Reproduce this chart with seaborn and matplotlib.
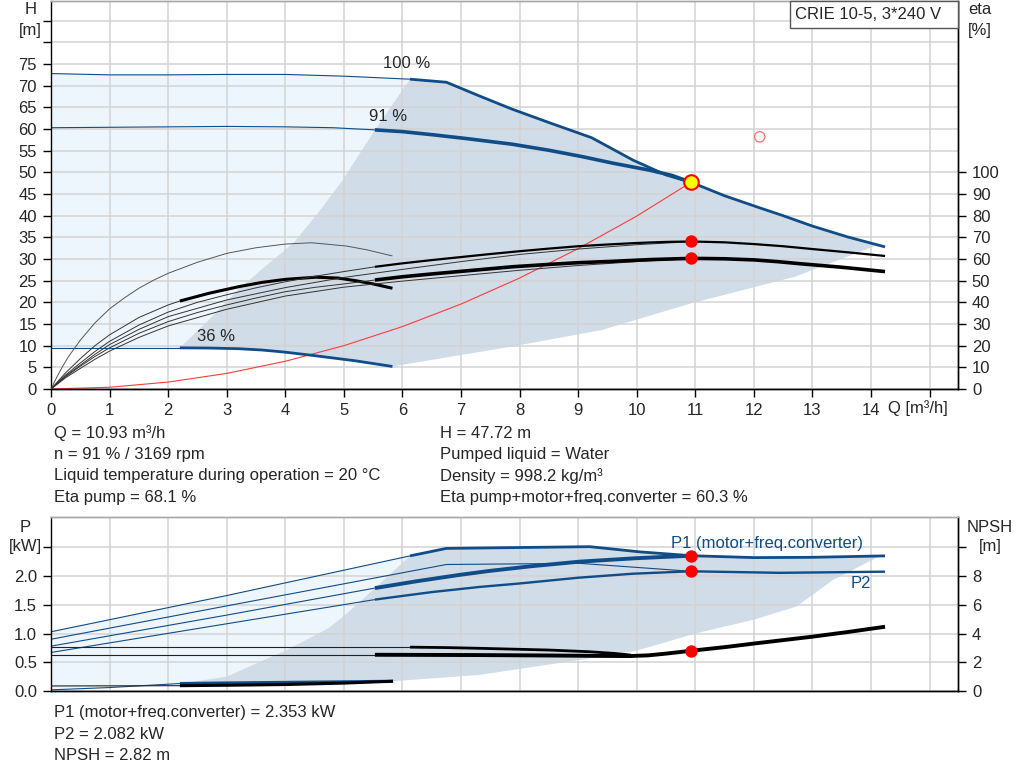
import matplotlib
matplotlib.use("Agg")
import matplotlib.pyplot as plt
import matplotlib.patches as mpatches
import seaborn as sns

sns.set_style("white")
plt.rcParams['font.family'] = ['Liberation Sans', 'DejaVu Sans']
plt.rcParams['font.size'] = 12

# ---------------- data ----------------
# H curves [m] vs Q [m3/h]
q100_thin = [0, 1, 2, 3, 4, 5, 6.13]
h100_thin = [72.8, 72.5, 72.5, 72.6, 72.6, 72.2, 71.5]
q100_thick = [6.13, 6.75, 7.32, 7.87, 8.5, 9.23, 9.94, 10.5, 10.93, 11.5, 12.08, 12.5, 13.0, 13.6, 14.24]
h100_thick = [71.5, 70.8, 67.6, 64.6, 61.5, 58.0, 52.8, 49.4, 47.7, 44.6, 41.9, 40.0, 37.6, 35.1, 32.8]
q91_thin = [0, 1, 2, 3, 4, 4.82, 5.53]
h91_thin = [60.3, 60.4, 60.5, 60.6, 60.5, 60.3, 59.8]
q91_thick = [5.53, 6.0, 6.5, 7.09, 7.87, 8.5, 9.08, 9.6, 10.22, 10.6, 10.93]
h91_thick = [59.8, 59.4, 58.7, 57.8, 56.5, 55.1, 53.6, 52.1, 50.5, 49.3, 47.7]
q36_thin = [0, 1, 2.2]
h36_thin = [9.5, 9.5, 9.5]
q36_thick = [2.2, 2.7, 3.2, 3.6, 4.0, 4.5, 5.2, 5.83]
h36_thick = [9.5, 9.45, 9.3, 9.0, 8.5, 7.7, 6.5, 5.2]
# operating range boundaries (H chart)
q_left = [2.2, 2.7, 3.2, 3.7, 4.14, 4.55, 4.98, 5.53, 6.13]
h_left = [9.5, 16.0, 23.0, 28.8, 33.7, 40.5, 48.2, 59.8, 71.5]
q_low = [5.83, 7.87, 9.4, 10.94, 12.7, 14.07, 14.24]
h_low = [5.2, 9.8, 13.6, 19.8, 25.9, 33.0, 32.8]
# system curve
q_sys = [0, 1, 2, 3, 4, 5, 6, 7, 8, 9, 10, 10.93]
h_sys = [0, 0.4, 1.6, 3.6, 6.4, 10.0, 14.4, 19.6, 25.6, 32.4, 39.9, 47.72]

# efficiency curves [%]
q_ep36 = [0, 0.1, 0.2, 0.3, 0.5, 0.75, 1.0, 1.25, 1.5, 1.75, 2.0, 2.5, 3.0, 3.5, 4.0, 4.45, 5.04, 5.4, 5.83]
e_ep36 = [0, 5.5, 10.5, 15, 22.5, 30.5, 37, 42, 46.5, 50.2, 53.4, 58.5, 62.6, 65.2, 66.9, 67.5, 66.0, 64.2, 61.4]
q_et36_thin = [0, 0.25, 0.5, 0.75, 1, 1.5, 2, 2.2]
e_et36_thin = [0, 7.5, 14, 20, 25, 33, 38.8, 40.6]
q_et36_thick = [2.2, 2.7, 3.2, 3.6, 4.0, 4.52, 4.9, 5.2, 5.5, 5.83]
e_et36_thick = [40.6, 44.2, 47.2, 49.2, 50.6, 51.6, 51.2, 50.0, 48.5, 46.5]
q_ep91_thin = [0, 0.25, 0.5, 0.75, 1, 1.5, 2, 2.5, 3, 3.5, 4, 4.5, 5, 5.53]
e_ep91_thin = [0, 6.5, 12, 17.3, 22, 29.5, 35.5, 40, 43.5, 46.7, 49.5, 52, 54.2, 56.4]
q_ep_thick = [5.53, 6, 6.5, 7, 7.5, 8, 8.5, 9, 9.5, 10, 10.5, 10.93, 11.5, 12, 12.5, 13, 13.6, 14.24]
e_ep_thick = [56.4, 58.0, 59.5, 60.9, 62.3, 63.6, 64.8, 65.9, 66.7, 67.4, 67.9, 68.1, 67.7, 66.9, 65.9, 64.6, 63.1, 61.4]
q_ep100 = [0, 0.25, 0.5, 0.75, 1, 1.5, 2, 3, 4, 5, 6, 7, 8, 9, 10, 10.93]
e_ep100 = [0, 6, 11, 16, 20.5, 27.5, 33.4, 41.1, 46.8, 51.5, 55.2, 58.8, 62.1, 64.6, 66.6, 68.0]
q_et91_thin = [0, 0.25, 0.5, 0.75, 1, 1.5, 2, 2.5, 3, 3.5, 4, 4.5, 5, 5.53]
e_et91_thin = [0, 5.7, 10.5, 15, 19, 25.7, 31.1, 35.3, 38.8, 42, 44.9, 46.9, 48.5, 50.3]
q_et_thick = [5.53, 6, 6.5, 7, 7.5, 7.87, 8.5, 9, 9.57, 10.2, 10.93, 11.5, 12, 12.4, 12.8, 13.5, 14.24]
e_et_thick = [50.3, 51.8, 53.1, 54.3, 55.5, 56.4, 57.5, 58.3, 58.9, 59.7, 60.3, 60.1, 59.6, 58.8, 57.8, 56.2, 54.2]
q_et100 = [0, 0.25, 0.5, 0.75, 1, 1.5, 2, 3, 4, 5, 6, 7, 8, 9, 10, 10.93]
e_et100 = [0, 5.2, 9.5, 13.7, 17.5, 23.8, 29.1, 36.8, 42.9, 47.0, 49.8, 52.3, 54.8, 57.0, 58.8, 60.2]

# power curves [kW]
q_p1_100_thin = [0, 3, 6.13]
p_p1_100_thin = [1.03, 1.66, 2.35]
q_p1_max = [6.13, 6.75, 9.2, 10.05, 10.93, 12.0, 13.0, 14.24]
p_p1_max = [2.35, 2.48, 2.51, 2.42, 2.353, 2.32, 2.325, 2.35]
q_p1_91_thin = [0, 3, 5.53]
p_p1_91_thin = [0.78, 1.32, 1.79]
q_p1_91_thick = [5.53, 6.25, 6.98, 7.5, 8.2, 9.03, 10.0, 10.93]
p_p1_91_thick = [1.79, 1.91, 2.02, 2.09, 2.17, 2.25, 2.31, 2.353]
q_p2_100 = [0, 3, 6.75, 9.03, 10.93]
p_p2_100 = [0.90, 1.48, 2.20, 2.22, 2.082]
q_p2_91_thin = [0, 5.53]
p_p2_91_thin = [0.67, 1.59]
q_p2_thick = [5.53, 6.5, 7.32, 8.0, 9.0, 9.94, 10.93, 12.44, 14.24]
p_p2_thick = [1.59, 1.72, 1.81, 1.87, 1.97, 2.04, 2.082, 2.055, 2.075]
q_p1_36_thin = [0, 1, 2.2]
p_p1_36_thin = [0.02, 0.06, 0.13]
q_p1_36_thick = [2.2, 3, 4, 5, 5.84]
p_p1_36_thick = [0.13, 0.14, 0.15, 0.16, 0.17]
# operating range boundaries (P chart)
q_pleft = [2.2, 3.0, 3.57, 4.0, 4.36, 4.75, 5.05, 5.5, 6.13]
p_pleft = [0.13, 0.25, 0.51, 0.70, 0.89, 1.10, 1.35, 1.76, 2.35]
q_plow = [5.84, 7.32, 9.03, 10.0, 11.0, 12.0, 12.73, 13.35, 14.1, 14.24]
p_plow = [0.17, 0.28, 0.54, 0.70, 1.0, 1.24, 1.47, 1.93, 2.32, 2.35]

# NPSH curves [m]
q_n100_thin = [0, 6.13]
n_n100_thin = [3.05, 3.05]
q_n100_thick = [6.13, 6.75, 7.32, 8.5, 9.2, 9.6, 9.9]
n_n100_thick = [3.05, 3.02, 2.97, 2.85, 2.73, 2.62, 2.5]
q_n91_thin = [0, 5.53]
n_n91_thin = [2.52, 2.52]
q_n_thick = [5.53, 7.32, 8.5, 9.4, 9.88, 10.2, 10.5, 10.93, 11.5, 12.0, 12.5, 13.0, 13.6, 14.24]
n_n_thick = [2.52, 2.5, 2.47, 2.44, 2.43, 2.48, 2.6, 2.8, 3.05, 3.3, 3.54, 3.78, 4.1, 4.47]
q_n36_thin = [0, 2.2]
n_n36_thin = [0.35, 0.37]
q_n36_thick = [2.2, 3, 4, 5, 5.84]
n_n36_thick = [0.37, 0.40, 0.45, 0.55, 0.68]

# duty point
q_duty = 10.93
h_duty = 47.72
eta_pump = 68.1
eta_total = 60.3
p1_duty = 2.353
p2_duty = 2.082
npsh_duty = 2.8

x_ticks = list(range(0, 16))
x_labels = [str(i) for i in range(0, 15)] + ['']
h_ticks = list(range(0, 90, 5))
h_labels = [str(v) for v in range(0, 80, 5)] + ['', '']
eta_ticks = list(range(0, 110, 10))
p_ticks = [0.0, 0.5, 1.0, 1.5, 2.0, 2.5]
p_labels = ['0.0', '0.5', '1.0', '1.5', '2.0', '']
n_ticks = [0, 2, 4, 6, 8, 10]
n_labels = ['0', '2', '4', '6', '8', '']

info_left = ['Q = 10.93 m³/h', 'n = 91 % / 3169 rpm',
             'Liquid temperature during operation = 20 °C', 'Eta pump = 68.1 %']
info_right = ['H = 47.72 m', 'Pumped liquid = Water', 'Density = 998.2 kg/m³',
              'Eta pump+motor+freq.converter = 60.3 %']
info_bottom = ['P1 (motor+freq.converter) = 2.353 kW', 'P2 = 2.082 kW', 'NPSH = 2.82 m']

# ---------------- style ----------------
BLUE = '#0f4c88'
GREY_FILL = '#d0dce8'
LIGHT_FILL = '#eef6fd'
GRID = '#d3d3d3'
FS = 12

W, HH = 1024, 781
fig = plt.figure(figsize=(W / 100, HH / 100), dpi=100)


def box(x0, y0, x1, y1):
    return [x0 / W, 1 - y1 / HH, (x1 - x0) / W, (y1 - y0) / HH]


def line(axis, q, v, color, lw, z=2):
    sns.lineplot(x=q, y=v, ax=axis, color=color, linewidth=lw, estimator=None,
                 sort=False, legend=False, zorder=z, solid_capstyle='butt')


def style_axes(a, right=False):
    for s in ['left', 'right', 'bottom']:
        a.spines[s].set_color('black')
        a.spines[s].set_linewidth(1.0)
    a.spines['top'].set_color('#a8a8a8')
    a.spines['top'].set_linewidth(1.0)
    a.spines['right'].set_visible(right)
    a.spines['left'].set_visible(not right)


XMAX = (958 - 51) / 58.57

# ---------------- top chart ----------------
ax = fig.add_axes(box(51, 1, 958, 389))
ax.set_xlim(0, XMAX)
HMAX = 388 / 4.333
ax.set_ylim(0, HMAX)
ax.set_axisbelow('line')
ax.set_xticks(x_ticks)
ax.set_xticklabels(x_labels)
ax.set_yticks(h_ticks)
ax.set_yticklabels(h_labels)
ax.grid(True, color=GRID, linewidth=1.1)
ax.tick_params(direction='out', length=6, width=1, color='black', labelsize=FS, pad=4,
               left=True, bottom=True)
ax.yaxis.get_major_ticks()[-1].tick1line.set_visible(False)
style_axes(ax)
ax.spines['right'].set_visible(True)

# fills
light_q = q100_thin + q_left[::-1] + q36_thin[::-1]
light_h = h100_thin + h_left[::-1] + h36_thin[::-1]
ax.fill(light_q, light_h, color=LIGHT_FILL, lw=0, zorder=1)
grey_q = q_left + q100_thick + q_low[::-1] + q36_thick[::-1]
grey_h = h_left + h100_thick + h_low[::-1] + h36_thick[::-1]
ax.fill(grey_q, grey_h, color=GREY_FILL, lw=0, zorder=1)

line(ax, q_sys, h_sys, '#ff3b3b', 0.8)
line(ax, q100_thin, h100_thin, BLUE, 0.8)
line(ax, q100_thick, h100_thick, BLUE, 2.0)
line(ax, q91_thin, h91_thin, BLUE, 0.8)
line(ax, q91_thick, h91_thick, BLUE, 2.6)
line(ax, q36_thin, h36_thin, BLUE, 0.8)
line(ax, q36_thick, h36_thick, BLUE, 2.0)

ax.text(6.07, 75.2, '100 %', ha='center', va='center', fontsize=FS)
ax.text(5.76, 62.8, '91 %', ha='center', va='center', fontsize=FS)
ax.text(2.82, 12.2, '36 %', ha='center', va='center', fontsize=FS)

axe = ax.twinx()
axe.set_ylim(0, 2 * HMAX)
axe.set_yticks(eta_ticks)
axe.set_yticklabels([str(v) for v in eta_ticks])
axe.tick_params(direction='out', length=6, width=1, color='black', labelsize=FS, pad=4)
axe.grid(False)
style_axes(axe, right=True)

line(axe, q_ep36, e_ep36, '#555555', 0.7)
line(axe, q_et36_thin, e_et36_thin, '#333333', 0.7)
line(axe, q_et36_thick, e_et36_thick, 'black', 2.2)
line(axe, q_ep100, e_ep100, '#333333', 0.7)
line(axe, q_ep91_thin, e_ep91_thin, '#333333', 0.7)
line(axe, q_ep_thick, e_ep_thick, 'black', 1.6)
line(axe, q_et100, e_et100, '#333333', 0.7)
line(axe, q_et91_thin, e_et91_thin, '#333333', 0.7)
line(axe, q_et_thick, e_et_thick, 'black', 2.6)

sns.scatterplot(x=[q_duty, q_duty], y=[eta_pump, eta_total], ax=axe, s=80,
                color='#ff0000', edgecolor='#ff0000', linewidth=0, zorder=5, legend=False)
sns.scatterplot(x=[q_duty], y=[h_duty * 2], ax=axe, s=110, color='#ffff00',
                edgecolor='#ff0000', linewidth=1.5, zorder=6, legend=False)
sns.scatterplot(x=[12.1], y=[58.2 * 2], ax=axe, s=55, facecolor='none',
                edgecolor='#ff6b6b', linewidth=0.9, zorder=6, legend=False)

# title box
rect = mpatches.Rectangle((790 / W, 1 - 28 / HH), 168 / W, 27 / HH,
                          transform=fig.transFigure, facecolor='white',
                          edgecolor='#555555', linewidth=1.0, zorder=5)
fig.add_artist(rect)
fig.text(868 / W, 1 - 14.5 / HH, 'CRIE 10-5, 3*240 V', ha='center', va='center',
         fontsize=FS, zorder=6)

fig.text(31 / W, 1 - 10 / HH, 'H', ha='center', va='center', fontsize=FS)
fig.text(30 / W, 1 - 30 / HH, '[m]', ha='center', va='center', fontsize=FS)
fig.text(980 / W, 1 - 10 / HH, 'eta', ha='center', va='center', fontsize=FS)
fig.text(980 / W, 1 - 30 / HH, '[%]', ha='center', va='center', fontsize=FS)
fig.text(888 / W, 1 - 408 / HH, 'Q [m³/h]', ha='left', va='center', fontsize=FS)

for i, t in enumerate(info_left):
    fig.text(54 / W, 1 - (433 + 21.5 * i) / HH, t, ha='left', va='center', fontsize=FS)
for i, t in enumerate(info_right):
    fig.text(440 / W, 1 - (433 + 21.5 * i) / HH, t, ha='left', va='center', fontsize=FS)

# ---------------- bottom chart ----------------
axb = fig.add_axes(box(51, 517, 958, 691))
axb.set_xlim(0, XMAX)
PMAX = 174 / 57.5
axb.set_ylim(0, PMAX)
axb.set_axisbelow('line')
axb.set_xticks(x_ticks)
axb.set_xticklabels([])
axb.set_yticks(p_ticks)
axb.set_yticklabels(p_labels)
axb.grid(True, color=GRID, linewidth=1.1)
axb.tick_params(axis='y', direction='out', length=6, width=1, color='black',
                labelsize=FS, pad=4, left=True)
axb.tick_params(axis='x', length=0)
style_axes(axb)
axb.spines['right'].set_visible(True)

plight_q = q_p1_100_thin + q_pleft[::-1] + q_p1_36_thin[::-1]
plight_p = p_p1_100_thin + p_pleft[::-1] + p_p1_36_thin[::-1]
axb.fill(plight_q, plight_p, color=LIGHT_FILL, lw=0, zorder=1)
pgrey_q = q_pleft + q_p1_max + q_plow[::-1] + q_p1_36_thick[::-1]
pgrey_p = p_pleft + p_p1_max + p_plow[::-1] + p_p1_36_thick[::-1]
axb.fill(pgrey_q, pgrey_p, color=GREY_FILL, lw=0, zorder=1)

line(axb, q_p1_100_thin, p_p1_100_thin, BLUE, 0.8)
line(axb, q_p1_max, p_p1_max, BLUE, 2.0)
line(axb, q_p1_91_thin, p_p1_91_thin, BLUE, 0.8)
line(axb, q_p1_91_thick, p_p1_91_thick, BLUE, 2.8)
line(axb, q_p2_100, p_p2_100, BLUE, 0.8)
line(axb, q_p2_91_thin, p_p2_91_thin, BLUE, 0.8)
line(axb, q_p2_thick, p_p2_thick, BLUE, 1.7)
line(axb, q_p1_36_thin, p_p1_36_thin, BLUE, 0.8)
line(axb, q_p1_36_thick, p_p1_36_thick, BLUE, 2.2)

axb.text(12.22, 2.56, 'P1 (motor+freq.converter)', ha='center', va='center',
         fontsize=FS, color=BLUE)
axb.text(13.83, 1.87, 'P2', ha='center', va='center', fontsize=FS, color=BLUE)

axn = axb.twinx()
axn.set_ylim(0, 4 * PMAX)
axn.set_yticks(n_ticks)
axn.set_yticklabels(n_labels)
axn.tick_params(direction='out', length=6, width=1, color='black', labelsize=FS, pad=4)
axn.grid(False)
style_axes(axn, right=True)

line(axn, q_n100_thin, n_n100_thin, '#222222', 0.8)
line(axn, q_n100_thick, n_n100_thick, 'black', 2.0)
line(axn, q_n91_thin, n_n91_thin, '#222222', 0.8)
line(axn, q_n_thick, n_n_thick, 'black', 2.8)
line(axn, q_n36_thin, n_n36_thin, '#222222', 0.8)
line(axn, q_n36_thick, n_n36_thick, 'black', 2.2)

sns.scatterplot(x=[q_duty, q_duty, q_duty],
                y=[p1_duty * 4, p2_duty * 4, npsh_duty], ax=axn, s=80,
                color='#ff0000', linewidth=0, zorder=5, legend=False)

fig.text(25 / W, 1 - 527 / HH, 'P', ha='center', va='center', fontsize=FS)
fig.text(25 / W, 1 - 547 / HH, '[kW]', ha='center', va='center', fontsize=FS)
fig.text(990 / W, 1 - 527 / HH, 'NPSH', ha='center', va='center', fontsize=FS)
fig.text(990 / W, 1 - 547 / HH, '[m]', ha='center', va='center', fontsize=FS)

for i, t in enumerate(info_bottom):
    fig.text(54 / W, 1 - (713 + 21.5 * i) / HH, t, ha='left', va='center', fontsize=FS)

fig.savefig('out.png', dpi=100)
